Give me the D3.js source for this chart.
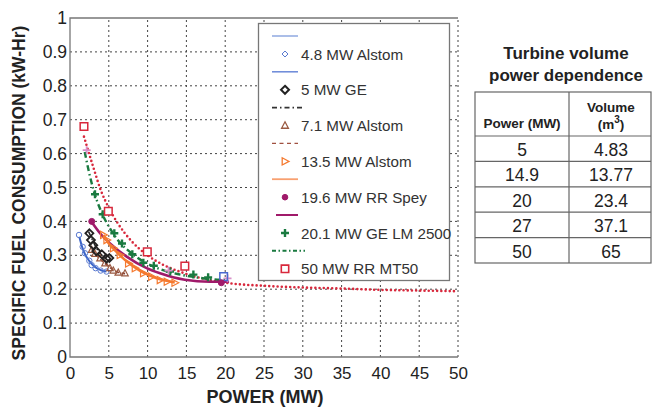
<!DOCTYPE html>
<html><head><meta charset="utf-8">
<script src="https://cdn.jsdelivr.net/npm/d3@7"></script>
<style>body{margin:0;background:#fff}svg{display:block;font-family:"Liberation Sans",Arial,sans-serif}</style>
</head><body><svg id="c" width="652" height="409"></svg>
<script>
const xTicks=[0,5,10,15,20,25,30,35,40,45,50];
const yTicks=[0,0.1,0.2,0.3,0.4,0.5,0.6,0.7,0.8,0.9,1];
const yTickLabels=["0","0.1","0.2","0.3","0.4","0.5","0.6","0.7","0.8","0.9","1"];
const legendNames=["4.8 MW Alstom","5 MW GE","7.1 MW Alstom","13.5 MW Alstom","19.6 MW RR Spey","20.1 MW GE LM 2500","50 MW RR MT50"];

const alstom48Pts=[[1.16,0.36],[1.63,0.325],[1.93,0.306],[2.49,0.284],[2.79,0.271],[3.3,0.262],[3.95,0.255],[4.7,0.252]];
const alstom48Fit=[[1.2,0.355],[1.6,0.322],[2,0.300],[2.5,0.283],[3,0.270],[3.5,0.261],[4,0.256],[4.7,0.252]];
const ge5Pts=[[2.5,0.365],[2.7,0.345],[3.0,0.33],[3.4,0.312],[4.1,0.303],[4.7,0.29],[5.07,0.292]];
const ge5Fit=[[2.4,0.37],[3,0.34],[3.5,0.318],[4,0.303],[4.5,0.292],[5.1,0.283]];
const alstom71Pts=[[2.79,0.316],[3.22,0.304],[3.87,0.291],[4.51,0.276],[5.15,0.262],[5.58,0.255],[6.22,0.249],[7.09,0.247]];
const alstom71Fit=[[2.8,0.318],[3.5,0.298],[4.5,0.276],[5.5,0.258],[6.2,0.25],[7.1,0.246]];
const alstom135Pts=[[4.3,0.36],[4.73,0.345],[5.58,0.321],[6.44,0.301],[7.52,0.276],[8.38,0.262],[9.45,0.247],[10.5,0.237],[11.6,0.227],[12.5,0.222],[13.5,0.219]];
const alstom135Fit=[[4.3,0.36],[5,0.335],[6,0.31],[7,0.288],[8,0.27],[9,0.255],[10,0.243],[11,0.234],[12,0.227],[13.5,0.22]];
const speyPts=[[2.8,0.40],[19.5,0.219]];
const speyFit=[[2.79,0.398],[3.87,0.365],[5.15,0.335],[7.3,0.296],[9.88,0.262],[11.6,0.247],[14.8,0.228],[18.0,0.222],[20.5,0.222]];
const lm2500Pts=[[3.22,0.48],[4.21,0.421],[5.71,0.365],[6.7,0.335],[8.03,0.303],[9.45,0.278],[10.8,0.269],[12.9,0.252],[15.9,0.243],[17.8,0.235]];
const lm2500Fit=[[1.9,0.605],[2.5,0.54],[3,0.495],[4,0.43],[5,0.385],[6,0.35],[8,0.305],[10,0.275],[12,0.256],[14,0.244],[16,0.236],[18,0.23],[20,0.227]];
const mt50Pts=[[1.8,0.68],[4.94,0.43],[9.96,0.31],[14.8,0.268]];
const mt50Fit=[[1.8,0.65],[3,0.56],[4,0.49],[5,0.44],[6,0.40],[8,0.34],[10,0.30],[12,0.272],[14,0.253],[16,0.238],[18,0.227],[20,0.219],[25,0.21],[30,0.205],[35,0.202],[40,0.198],[45,0.196],[50,0.194]];
const blueSquarePts=[[19.8,0.237]];
const pinkPlusPts=[[2.15,0.61],[12.7,0.255],[20.3,0.232]];

const tableTitle=["Turbine volume","power dependence"];
const tablePower=["5","14.9","20","27","50"];
const tableVolume=["4.83","13.77","23.4","37.1","65"];

const svg=d3.select("#c");
const x=d3.scaleLinear().domain([0,50]).range([70,458]);
const y=d3.scaleLinear().domain([0,1]).range([357,18]);

// grid
const grid=svg.append("g").attr("stroke","#444").attr("stroke-width",1).attr("stroke-dasharray","2,3");
grid.selectAll(".gx").data(xTicks.slice(1)).join("line").attr("x1",d=>x(d)).attr("x2",d=>x(d)).attr("y1",y(0)).attr("y2",y(1));
grid.selectAll(".gy").data(yTicks.slice(1,-1)).join("line").attr("y1",d=>y(d)).attr("y2",d=>y(d)).attr("x1",x(0)).attr("x2",x(50));

// frame
svg.append("path").attr("d",`M${x(50)},${y(1)}H${x(0)}V${y(0)}H${x(50)}`).attr("fill","none").attr("stroke","#777").attr("stroke-width",1.3);

// axes labels
const xa=svg.append("g").attr("transform",`translate(0,${y(0)})`).call(d3.axisBottom(x).tickValues(xTicks).tickSize(0).tickPadding(10));
xa.select(".domain").remove();
xa.selectAll("text").attr("font-size",17).attr("fill","#222").attr("font-family","Liberation Sans, Arial");
const ya=svg.append("g").attr("transform",`translate(${x(0)},0)`).call(d3.axisLeft(y).tickValues(yTicks).tickFormat((d,i)=>yTickLabels[i]).tickSize(0).tickPadding(3));
ya.select(".domain").remove();
ya.selectAll("text").attr("font-size",17.5).attr("fill","#222").attr("font-family","Liberation Sans, Arial");

svg.append("text").attr("x",265).attr("y",403).attr("text-anchor","middle").attr("font-weight","bold").attr("font-size",18).attr("fill","#222").text("POWER (MW)");
svg.append("text").attr("transform","translate(25,193) rotate(-90)").attr("text-anchor","middle").attr("font-weight","bold").attr("font-size",17.5).attr("fill","#222").text("SPECIFIC FUEL CONSUMPTION (kW-Hr)");

const line=d3.line().x(d=>x(d[0])).y(d=>y(d[1])).curve(d3.curveMonotoneX);
const plot=svg.append("g");
function drawLine(data,color,w,dash){plot.append("path").datum(data).attr("d",line).attr("fill","none").attr("stroke",color).attr("stroke-width",w).attr("stroke-dasharray",dash||null).attr("stroke-linecap",dash&&dash.startsWith("0")?"round":"butt");}

const shapes={
 circle:s=>`M${s},0A${s},${s} 0 1,1 ${-s},0A${s},${s} 0 1,1 ${s},0Z`,
 diamond:s=>`M0,${-s}L${s},0L0,${s}L${-s},0Z`,
 triUp:s=>`M0,${-s}L${s*0.9},${s*0.7}L${-s*0.9},${s*0.7}Z`,
 triRight:s=>`M${s},0L${-s*0.7},${s*0.9}L${-s*0.7},${-s*0.9}Z`,
 square:s=>`M${-s},${-s}H${s}V${s}H${-s}Z`,
 plus:s=>`M${-s},0H${s}M0,${-s}V${s}`,
 dot:s=>`M${s},0A${s},${s} 0 1,1 ${-s},0A${s},${s} 0 1,1 ${s},0Z`
};
function drawPts(g,data,shape,size,color,w,fill){
 g.selectAll(null).data(data).join("path").attr("transform",d=>`translate(${x(d[0])},${y(d[1])})`)
  .attr("d",shapes[shape](size)).attr("fill",fill||"none").attr("stroke",color).attr("stroke-width",w);
}

drawLine(mt50Fit,"#d8283c",2.6,"0,4.2");
drawLine(lm2500Fit,"#1a7a40",2.4,"6,3,1.5,3");
drawLine(speyFit,"#a01a6a",2.6);
drawLine(alstom135Fit,"#f57a30",2.6);
drawLine(alstom71Fit,"#8a4030",1.6,"4,2.5");
drawLine(ge5Fit,"#222",1.6,"5,2.5,1.5,2.5");
drawLine(alstom48Fit,"#3a64c8",2);

drawPts(plot,alstom48Pts,"circle",2.7,"#5a7ad0",1);
drawPts(plot,alstom71Pts,"triUp",3.6,"#9a5a42",1.2);
drawPts(plot,ge5Pts,"diamond",4,"#222",1.8);
drawPts(plot,alstom135Pts,"triRight",4,"#f57a30",1.2);
drawPts(plot,lm2500Pts,"plus",4,"#1a7a40",2.4);
drawPts(plot,pinkPlusPts,"plus",4,"#d890c8",1.8);
drawPts(plot,mt50Pts,"square",3.8,"#d8283c",1.5,"#fff");
drawPts(plot,blueSquarePts,"square",3.8,"#4a6ad0",1.5,"none");
drawPts(plot,speyPts,"dot",3,"#a01a6a",1,"#a01a6a");

// legend
const lg=svg.append("g");
lg.append("rect").attr("x",258.5).attr("y",23.5).attr("width",191).attr("height",257).attr("fill","#fff").attr("stroke","#777").attr("stroke-width",1.3);
const legLines=[
 {c:"#8fa8e0",w:1.5,d:null,x1:272,x2:298},
 {c:"#6a88d8",w:1.5,d:null,x1:272,x2:298},
 {c:"#333",w:1.8,d:"5,3,1.5,3",x1:272,x2:302},
 {c:"#a05040",w:1.2,d:"4,3.5",x1:272,x2:298},
 {c:"#f8a070",w:1.8,d:null,x1:272,x2:298},
 {c:"#a01a6a",w:2,d:null,x1:276,x2:298},
 {c:"#1a7a40",w:2,d:"4,2.5,1.5,2.5",x1:272,x2:305}
];
const legMarks=[
 {s:"diamond",z:3,c:"#5a7ad0",w:1},
 {s:"diamond",z:4,c:"#222",w:2},
 {s:"triUp",z:3.8,c:"#9a5a42",w:1.3},
 {s:"triRight",z:4,c:"#f57a30",w:1.3},
 {s:"dot",z:2.8,c:"#a01a6a",w:1,f:"#a01a6a"},
 {s:"plus",z:4,c:"#1a7a40",w:2.4},
 {s:"square",z:3.7,c:"#d8283c",w:1.6,f:"#fff"}
];
const legY0=36, legStep=35.8;
legLines.forEach((L,i)=>{
 lg.append("line").attr("x1",L.x1).attr("x2",L.x2).attr("y1",legY0+i*legStep).attr("y2",legY0+i*legStep).attr("stroke",L.c).attr("stroke-width",L.w).attr("stroke-dasharray",L.d);
});
legendNames.forEach((n,i)=>{
 const cy=legY0+i*legStep+18;
 const M=legMarks[i];
 lg.append("path").attr("transform",`translate(285,${cy})`).attr("d",shapes[M.s](M.z)).attr("fill",M.f||"none").attr("stroke",M.c).attr("stroke-width",M.w);
 lg.append("text").attr("x",301).attr("y",cy+5.5).attr("font-size",15.2).attr("fill","#333").text(n);
});

// table
const tb=svg.append("g");
tb.selectAll(".tt").data(tableTitle).join("text").attr("x",566).attr("y",(d,i)=>59+i*22).attr("text-anchor","middle").attr("font-weight","bold").attr("font-size",17).attr("fill","#222").text(d=>d);
const tL=475,tR=651,tC=569,tTop=92,tHead=136,rowH=25.4;
tb.append("rect").attr("x",tL).attr("y",tTop).attr("width",tR-tL).attr("height",tHead-tTop+rowH*tablePower.length).attr("fill","none").attr("stroke","#666").attr("stroke-width",1.2);
tb.append("line").attr("x1",tC).attr("x2",tC).attr("y1",tTop).attr("y2",tHead+rowH*tablePower.length).attr("stroke","#666").attr("stroke-width",1.2);
tb.selectAll(".rl").data(d3.range(tablePower.length)).join("line").attr("x1",tL).attr("x2",tR).attr("y1",i=>tHead+i*rowH).attr("y2",i=>tHead+i*rowH).attr("stroke","#666").attr("stroke-width",1.2);
tb.append("text").attr("x",522).attr("y",128).attr("text-anchor","middle").attr("font-weight","bold").attr("font-size",13.5).attr("fill","#222").text("Power (MW)");
tb.append("text").attr("x",611).attr("y",112).attr("text-anchor","middle").attr("font-weight","bold").attr("font-size",13.5).attr("fill","#222").text("Volume");
const vt=tb.append("text").attr("x",611).attr("y",129).attr("text-anchor","middle").attr("font-weight","bold").attr("font-size",13.5).attr("fill","#222");
vt.append("tspan").text("(m");vt.append("tspan").attr("font-size",10).attr("dy",-6).text("3");vt.append("tspan").attr("dy",6).text(")");
tb.selectAll(".cp").data(tablePower).join("text").attr("x",522).attr("y",(d,i)=>tHead+i*rowH+20).attr("text-anchor","middle").attr("font-size",17.5).attr("fill","#222").text(d=>d);
tb.selectAll(".cv").data(tableVolume).join("text").attr("x",611).attr("y",(d,i)=>tHead+i*rowH+20).attr("text-anchor","middle").attr("font-size",17.5).attr("fill","#222").text(d=>d);
</script></body></html>
